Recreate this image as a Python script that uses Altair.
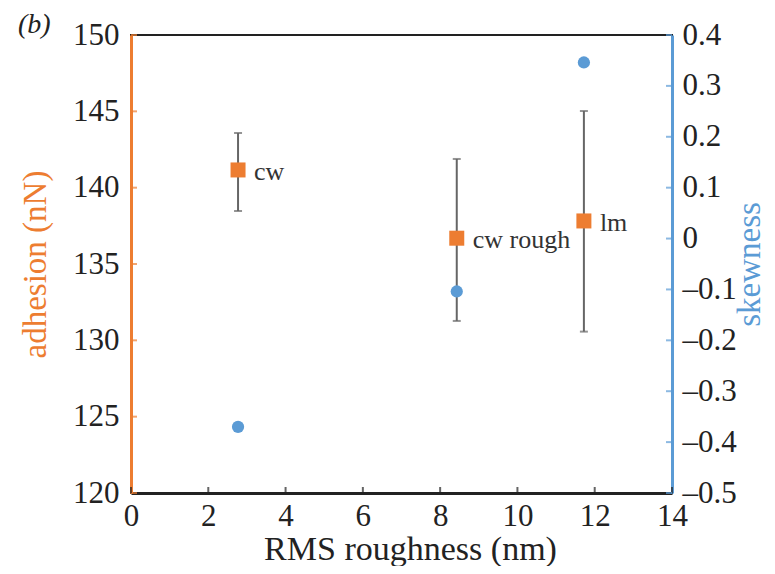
import altair as alt
import pandas as pd

# ---- data ----
samples = ["cw", "cw rough", "lm"]
rms = [2.77, 8.43, 11.72]
adhesion = [141.16, 136.69, 137.82]
adhesion_hi = [143.58, 141.88, 145.02]
adhesion_lo = [138.47, 131.27, 130.57]
skewness = [-0.370, -0.104, 0.346]

x_ticks = [0, 2, 4, 6, 8, 10, 12, 14]
left_ticks = [120, 125, 130, 135, 140, 145, 150]
right_ticks = [-0.5, -0.4, -0.3, -0.2, -0.1, 0.0, 0.1, 0.2, 0.3, 0.4]
panel_label = ["(b)"]

ORANGE = "#ED7D31"
BLUE = "#5B9BD5"
FONT = "Liberation Serif"
W, H = 541, 458

df = pd.DataFrame({
    "sample": samples, "rms": rms, "adhesion": adhesion,
    "hi": adhesion_hi, "lo": adhesion_lo, "skewness": skewness,
})
xt = pd.DataFrame({"rms": x_ticks})
lt = pd.DataFrame({"adhesion": left_ticks})
rt = pd.DataFrame({"skewness": right_ticks})
pl = pd.DataFrame({"t": panel_label})

x_scale = alt.Scale(domain=[0, 14], nice=False, zero=False)
x_axis = alt.Axis(values=x_ticks, title="RMS roughness (nm)", ticks=False, grid=False,
                  domainColor="#222", domainWidth=3, labelFontSize=31, labelFont=FONT,
                  labelColor="#222", labelPadding=8, labelFlush=False,
                  titleFont=FONT, titleFontSize=34,
                  titleFontWeight="normal", titleColor="#222", titlePadding=1, titleX=279,
                  format="d")

yl_scale = alt.Scale(domain=[120, 150], nice=False, zero=False)
yl_axis = alt.Axis(values=left_ticks, title="adhesion (nN)", ticks=False, grid=False,
                   domainColor=ORANGE, domainWidth=3, labelFontSize=31, labelFont=FONT,
                   labelColor="#222", labelPadding=12, labelFlush=False,
                   titleFont=FONT, titleFontSize=33,
                   titleFontWeight="normal", titleColor=ORANGE, titlePadding=20)

yr_scale = alt.Scale(domain=[-0.5, 0.4], nice=False, zero=False)
yr_axis = alt.Axis(values=right_ticks, title="skewness", orient="right", ticks=False, grid=False,
                   domainColor=BLUE, domainWidth=3, labelFontSize=31, labelFont=FONT,
                   labelColor="#222", labelPadding=10, labelFlush=False,
                   titleFont=FONT, titleFontSize=33,
                   titleFontWeight="normal", titleColor=BLUE, titlePadding=30, titleAngle=270,
                   labelExpr="datum.value == 0 ? '0' : (datum.value < 0 ? '\u2013' : '') + format(abs(datum.value), '.1f')")

X = alt.X("rms:Q", scale=x_scale, axis=x_axis)

base = alt.Chart(df)
err = base.mark_rule(color="#666666", strokeWidth=2).encode(
    x=X, y=alt.Y("lo:Q", scale=yl_scale, axis=yl_axis), y2="hi:Q")
cap_hi = base.mark_tick(orient="horizontal", size=8, thickness=2, color="#666666").encode(
    x=X, y=alt.Y("hi:Q", scale=yl_scale, axis=yl_axis))
cap_lo = base.mark_tick(orient="horizontal", size=8, thickness=2, color="#666666").encode(
    x=X, y=alt.Y("lo:Q", scale=yl_scale, axis=yl_axis))
squares = base.mark_square(size=225, color=ORANGE, opacity=1).encode(
    x=X, y=alt.Y("adhesion:Q", scale=yl_scale, axis=yl_axis))
labels = base.mark_text(align="left", baseline="alphabetic", dx=16, dy=10, font=FONT,
                        fontSize=26, color="#333").encode(
    x=X, y=alt.Y("adhesion:Q", scale=yl_scale, axis=yl_axis), text="sample:N")
lticks = alt.Chart(lt).mark_tick(orient="horizontal", size=6, thickness=2, color=ORANGE).encode(
    y=alt.Y("adhesion:Q", scale=yl_scale, axis=yl_axis), x=alt.value(3))
bticks = alt.Chart(xt).mark_tick(orient="vertical", size=6, thickness=2, color="#222").encode(
    x=X, y=alt.value(H - 3))
plabel = alt.Chart(pl).mark_text(align="left", baseline="alphabetic", font=FONT, fontSize=28,
                                 fontStyle="italic", color="#222").encode(
    x=alt.value(-113), y=alt.value(-2), text="t:N")

left = alt.layer(err, cap_hi, cap_lo, squares, labels, lticks, bticks, plabel)

circles = base.mark_circle(size=150, color=BLUE, opacity=1).encode(
    x=X, y=alt.Y("skewness:Q", scale=yr_scale, axis=yr_axis))
rticks = alt.Chart(rt).mark_tick(orient="horizontal", size=6, thickness=2, color=BLUE).encode(
    y=alt.Y("skewness:Q", scale=yr_scale, axis=yr_axis), x=alt.value(W - 3))
right = alt.layer(circles, rticks)

chart = alt.layer(left, right).resolve_scale(y="independent").properties(
    width=W, height=H,
    autosize=alt.AutoSizeParams(type="none"),
    padding={"left": 123, "top": 27, "right": 95, "bottom": 73},
    background="white",
).configure_view(stroke="#222", strokeWidth=2)

chart.save("out.html", embed_options={"renderer": "svg", "actions": False})
